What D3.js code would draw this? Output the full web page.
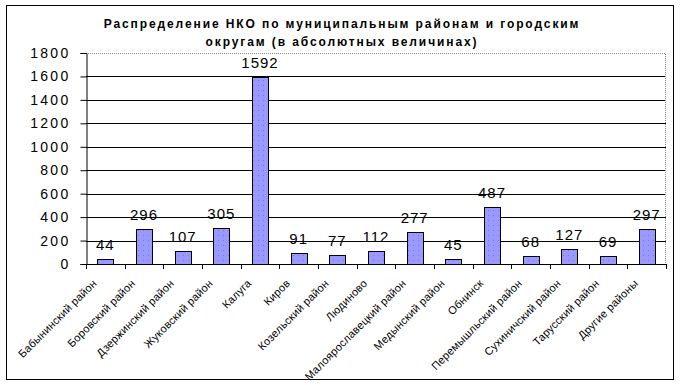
<!DOCTYPE html>
<meta charset="utf-8">
<style>
body { margin: 0; background: #fff; font-family: Arial, "Liberation Sans", sans-serif; }
.title { font-size: 12px; font-weight: bold; letter-spacing: 1.9px; }
.ylab { font-size: 14px; letter-spacing: 2.3px; }
.xlab { font-size: 11px; letter-spacing: 0.2px; }
.val { font-size: 15px; letter-spacing: 1px; }
</style>
<div id="chart"></div>
<script src="https://cdn.jsdelivr.net/npm/d3@7"></script>
<script>
var districts = ["Бабынинский район", "Боровский район", "Дзержинский район", "Жуковский район",
  "Калуга", "Киров", "Козельский район", "Людиново", "Малоярославецкий район", "Медынский район",
  "Обнинск", "Перемышльский район", "Сухиничский район", "Тарусский район", "Другие районы"];
var counts = [44, 296, 107, 305, 1592, 91, 77, 112, 277, 45, 487, 68, 127, 69, 297];
var yTicks = [0, 200, 400, 600, 800, 1000, 1200, 1400, 1600, 1800];
var titleLines = ["Распределение НКО по муниципальным районам и городским",
  "округам (в абсолютных величинах)"];

var W = 681, H = 385;
var margin = {top: 53, right: 15, bottom: 121, left: 86},
    width = W - margin.left - margin.right,
    height = H - margin.top - margin.bottom;

var svg = d3.select("#chart").append("svg")
    .attr("width", W)
    .attr("height", H);

// dotted fill like the old excel bars
var pat = svg.append("defs").append("pattern")
    .attr("id", "dots")
    .attr("patternUnits", "userSpaceOnUse")
    .attr("width", 5).attr("height", 5);
pat.append("rect").attr("width", 5).attr("height", 5).attr("fill", "#9999ff");
pat.append("rect").attr("x", 2).attr("y", 2).attr("width", 1).attr("height", 1).attr("fill", "#7777dd");

svg.append("rect")
    .attr("x", 6.5).attr("y", 5.5)
    .attr("width", 667).attr("height", 374)
    .attr("fill", "none").attr("stroke", "#000");

svg.append("text")
    .attr("class", "title")
    .attr("text-anchor", "middle")
    .selectAll("tspan")
    .data(titleLines)
  .enter().append("tspan")
    .attr("x", 342)
    .attr("y", function(d, i) { return 28 + i * 18; })
    .text(function(d) { return d; });

var g = svg.append("g")
    .attr("transform", "translate(" + margin.left + "," + margin.top + ")");

var x = d3.scaleBand()
    .domain(districts)
    .range([0, width])
    .paddingInner(0.58)
    .paddingOuter(0.29);

var y = d3.scaleLinear()
    .domain([0, 1800])
    .range([height, 0]);

// grid
g.selectAll(".grid")
    .data(yTicks.filter(function(d) { return d > 0 && d < 1800; }))
  .enter().append("line")
    .attr("x1", 0).attr("x2", width)
    .attr("y1", function(d) { return Math.round(y(d)) + 0.5; })
    .attr("y2", function(d) { return Math.round(y(d)) + 0.5; })
    .attr("stroke", "#000");

// plot border top + right (dotted grey)
g.append("path")
    .attr("d", "M0," + (Math.round(y(1800)) + 0.5) + "H" + (width - 0.5) + "V" + height)
    .attr("fill", "none")
    .attr("stroke", "#888")
    .attr("stroke-dasharray", "1,1");

// y axis
var yAxis = g.append("g")
    .attr("transform", "translate(0.5,0)")
    .call(d3.axisLeft(y).tickValues(yTicks).tickFormat(d3.format("d")).tickSize(6).tickPadding(10));
yAxis.selectAll("line, path").attr("stroke", "#000");
yAxis.selectAll("text")
    .attr("class", "ylab")
    .attr("fill", "#000")
    .style("font-family", "Arial, 'Liberation Sans', sans-serif");

// bars
g.selectAll(".bar")
    .data(counts)
  .enter().append("rect")
    .attr("x", function(d, i) { return Math.round(x(districts[i])) + 0.5; })
    .attr("y", function(d) { return Math.round(y(d)) + 0.5; })
    .attr("width", Math.round(x.bandwidth()))
    .attr("height", function(d) { return Math.round(height) - Math.round(y(d)); })
    .attr("fill", "url(#dots)")
    .attr("stroke", "#000");

// value labels
g.selectAll(".val")
    .data(counts)
  .enter().append("text")
    .attr("class", "val")
    .attr("text-anchor", "middle")
    .attr("x", function(d, i) { return x(districts[i]) + x.bandwidth() / 2; })
    .attr("y", function(d) { return y(d) - 9; })
    .text(function(d) { return d; });

// x axis
var step = x.step();
g.append("line")
    .attr("x1", 0).attr("x2", width)
    .attr("y1", Math.round(height) + 0.5).attr("y2", Math.round(height) + 0.5)
    .attr("stroke", "#000");
g.selectAll(".xtick")
    .data(d3.range(districts.length + 1))
  .enter().append("line")
    .attr("x1", function(i) { return Math.round(i * step) + 0.5; })
    .attr("x2", function(i) { return Math.round(i * step) + 0.5; })
    .attr("y1", Math.round(height)).attr("y2", Math.round(height) + 5)
    .attr("stroke", "#000");

g.selectAll(".xlab")
    .data(districts)
  .enter().append("text")
    .attr("class", "xlab")
    .attr("text-anchor", "end")
    .attr("transform", function(d) {
      return "translate(" + (x(d) + x.bandwidth() / 2 - 8) + "," + (height + 20) + ")rotate(-45)";
    })
    .text(function(d) { return d; });
</script>
